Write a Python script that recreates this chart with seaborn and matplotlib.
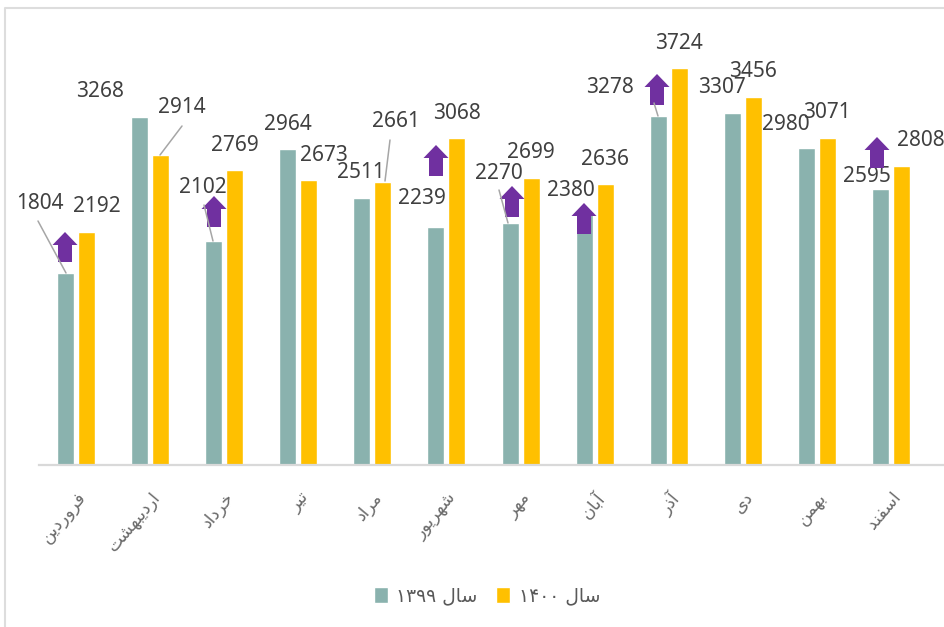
import pandas as pd
import seaborn as sns
import matplotlib
matplotlib.use("Agg")
import matplotlib.pyplot as plt
from matplotlib.patches import FancyArrow

months = ["فروردین", "اردیبهشت", "خرداد", "تیر", "مراد", "شهریور", "مهر", "آبان", "آذر", "دی", "بهمن", "اسفند"]
year_1399 = [1804, 3268, 2102, 2964, 2511, 2239, 2270, 2380, 3278, 3307, 2980, 2595]
year_1400 = [2192, 2914, 2769, 2673, 2661, 3068, 2699, 2636, 3724, 3456, 3071, 2808]
series_names = ["سال ۱۳۹۹", "سال ۱۴۰۰"]
colors = ["#8AB2AE", "#FFC000"]

# label offsets from the top of each bar, pixels
off_1399 = [(-26, 69), (-40, 25), (-11, 54), (0, 25), (-1, 25), (-14, 28), (-11, 50), (-13, 21), (-48, 28), (-10, 25), (-21, 23), (-13, 12)]
off_1400 = [(10, 25), (21, 47), (0, 25), (15, 25), (13, 60), (0, 25), (0, 25), (0, 25), (0, 25), (0, 25), (0, 25), (19, 25)]

# (isolated, final, initial, medial) - matplotlib does not shape arabic by itself
forms = {
    "ا": "\uFE8D\uFE8E", "آ": "\uFE81\uFE82", "د": "\uFEA9\uFEAA", "ذ": "\uFEAB\uFEAC",
    "ر": "\uFEAD\uFEAE", "و": "\uFEED\uFEEE",
    "ب": "\uFE8F\uFE90\uFE91\uFE92", "ت": "\uFE95\uFE96\uFE97\uFE98", "خ": "\uFEA5\uFEA6\uFEA7\uFEA8",
    "س": "\uFEB1\uFEB2\uFEB3\uFEB4", "ش": "\uFEB5\uFEB6\uFEB7\uFEB8", "ف": "\uFED1\uFED2\uFED3\uFED4",
    "ل": "\uFEDD\uFEDE\uFEDF\uFEE0", "م": "\uFEE1\uFEE2\uFEE3\uFEE4", "ن": "\uFEE5\uFEE6\uFEE7\uFEE8",
    "ه": "\uFEE9\uFEEA\uFEEB\uFEEC", "ی": "\uFBFC\uFBFD\uFBFE\uFBFF",
}


def shape_word(word):
    out = []
    for i, ch in enumerate(word):
        if ch not in forms:
            out.append(ch)
            continue
        prev_joins = i > 0 and word[i - 1] in forms and len(forms[word[i - 1]]) == 4
        next_joins = i + 1 < len(word) and word[i + 1] in forms and len(forms[ch]) == 4
        if prev_joins and next_joins:
            out.append(forms[ch][3])
        elif prev_joins:
            out.append(forms[ch][1])
        elif next_joins:
            out.append(forms[ch][2])
        else:
            out.append(forms[ch][0])
    return "".join(reversed(out))


def shape(text):
    # digits stay left to right, the word order is flipped
    parts = [p if p[0] in "۰۱۲۳۴۵۶۷۸۹" else shape_word(p) for p in text.split(" ")]
    return " ".join(reversed(parts))


sns.set_theme(style="white")
plt.rcParams["font.family"] = ["Noto Sans", "DejaVu Sans"]

df = pd.DataFrame({
    "month": months * 2,
    "year": [series_names[0]] * 12 + [series_names[1]] * 12,
    "value": year_1399 + year_1400,
})
df["year"] = df["year"].map(shape)
df["month"] = df["month"].map(shape)

fig = plt.figure(figsize=(9.45, 6.27), dpi=100)
ax = fig.add_axes([39 / 945, 1 - 465 / 627, (945 - 39) / 945, 457 / 627])
sns.barplot(data=df, x="month", y="value", hue="year", palette=colors, width=0.567, gap=0.19,
            saturation=1, ax=ax)

ax.set_xlim(-0.5, 11.73)
ax.set_ylim(0, 457 / 0.1065)
ax.set_xlabel("")
ax.set_ylabel("")
ax.set_yticks([])
sns.despine(ax=ax, left=True)
ax.spines["bottom"].set_color("#D9D9D9")
ax.spines["bottom"].set_linewidth(1.6)
ax.tick_params(axis="x", length=0, pad=17)
for lab in ax.get_xticklabels():
    lab.set_rotation(50)
    lab.set_ha("right")
    lab.set_rotation_mode("anchor")
    lab.set_fontsize(12.5)
    lab.set_color("#6A6A6A")
    lab.set_family(["DejaVu Sans"])

# data labels
for vals, offs, shift in [(year_1399, off_1399, -0.1417), (year_1400, off_1400, 0.1417)]:
    for i, v in enumerate(vals):
        ax.annotate(str(v), xy=(i + shift, v), xytext=offs[i], textcoords="offset pixels",
                    ha="center", va="center", fontsize=15, color="#404040", annotation_clip=False)

handles, labels = ax.get_legend_handles_labels()
ax.legend(handles, labels, loc="center", bbox_to_anchor=(487 / 945, 1 - 596 / 627),
          bbox_transform=fig.transFigure, ncol=2, frameon=False,
          handlelength=0.75, handleheight=0.9, handletextpad=0.45, columnspacing=1.0,
          labelcolor="#595959", prop={"family": ["DejaVu Sans"], "size": 13.5})

# overlay in image pixels: frame, leader lines and the purple arrows
ov = fig.add_axes([0, 0, 1, 1], facecolor="none")
ov.set_xlim(0, 945)
ov.set_ylim(627, 0)
ov.axis("off")

ov.plot([5, 5, 945], [627, 8, 8], color="#DDDDDD", lw=1.5)

leaders = [((38, 221), (66, 273)), ((182, 126), (160, 155)), ((204, 205), (213, 241)),
           ((390, 140), (385, 181)), ((499, 190), (508, 223)), ((654, 103), (658, 116))]
for a, b in leaders:
    ov.plot([a[0], b[0]], [a[1], b[1]], color="#A6A6A6", lw=1.1)

arrows = [(65, 262, 232), (214, 227, 196), (436, 176, 145), (512, 217, 186), (584, 234, 203), (657, 105, 74), (877, 168, 137)]
for x, y_low, y_high in arrows:
    ov.add_patch(FancyArrow(x, y_low, 0, y_high - y_low, width=14, head_width=25, head_length=13,
                            length_includes_head=True, color="#7030A0", lw=0))

fig.savefig("out.png", dpi=100)
